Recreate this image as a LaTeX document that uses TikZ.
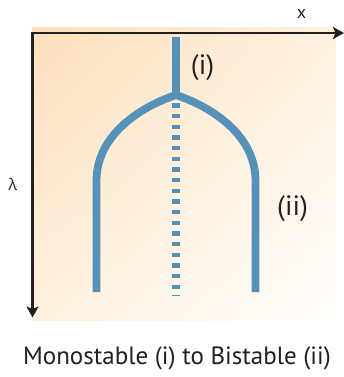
\documentclass[tikz,border=0pt]{standalone}
\usepackage{fontspec}
\setmainfont{PT Sans}
\newfontfamily\greekfont{Open Sans}
\usetikzlibrary{arrows.meta,shadings}
\definecolor{inkdark}{HTML}{231F20}
\definecolor{curveblue}{HTML}{5592B9}
\definecolor{bgorange}{HTML}{FCE0BC}
\definecolor{bgmid}{HTML}{FEF1E0}
\definecolor{bgwhite}{HTML}{FFFEFC}
\tikzset{
  axisline/.style={draw=inkdark, line width=2.8pt, -{Stealth[length=11pt,width=12pt,inset=2.5pt]}},
  branch/.style={draw=curveblue, line width=7.8pt, line join=miter, line cap=butt},
  dotted centre/.style={draw=curveblue, line width=8pt, dash pattern=on 4.3pt off 6.37pt},
  lbl/.style={text=inkdark, inner sep=0pt, font=\fontsize{28}{30}\selectfont},
  axislbl/.style={text=inkdark, inner sep=0pt},
}
\begin{document}
\begin{tikzpicture}[x=1pt,y=-1pt]
\useasboundingbox (0,0) rectangle (344,377);
\shade[upper left=bgorange, upper right=bgmid, lower left=bgmid, lower right=bgwhite]
  (32,28) rectangle (336,320);
% axes
\coordinate (origin) at (32.5,33);
\coordinate (xend) at (344,33);
\coordinate (yend) at (32.5,317.5);
\draw[axisline] ([xshift=-1.4pt]origin) -- (xend);
\draw[axisline] (origin) -- (yend);
\node[axislbl, font=\fontsize{18}{19}\selectfont] (xlabel) at (301.5,14) {x};
\node[axislbl, font=\greekfont\fontsize{16}{17}\selectfont] (lamlabel) at (13,184) {λ};
% curves
\coordinate (stemtop) at (176,37);
\coordinate (junc) at (176,95);
\coordinate (lcurve) at (96.5,180);
\coordinate (rcurve) at (255.5,180);
\coordinate (lbot) at (96.5,292);
\coordinate (rbot) at (255.5,292);
\coordinate (dtop) at (176,103.3);
\coordinate (dbot) at (176,296);
\draw[branch] (stemtop) -- (junc);
\draw[branch] (lbot) -- (lcurve) .. controls (97,135) and (140,107) .. (junc)
  .. controls (212,107) and (255,135) .. (rcurve) -- (rbot);
\draw[dotted centre] (dtop) -- (dbot);
\node[lbl] (mono) at (202.5,67.5) {(i)};
\node[lbl] (bi) at (292.5,209) {(ii)};
\node[text=inkdark, inner sep=0pt, font=\fontsize{25}{27}\selectfont] (caption) at (177,358) {Monostable (i) to Bistable (ii)};
\end{tikzpicture}
\end{document}
